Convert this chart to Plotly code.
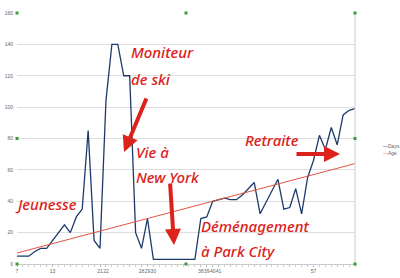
import plotly.graph_objects as go

ages = [7, 8, 9, 10, 11, 12, 13, 14, 15, 16, 17, 18, 19, 20, 21, 22, 23, 24, 25, 26,
        27, 28, 29, 30, 31, 32, 33, 34, 35, 36, 37, 38, 39, 40, 41, 42, 43, 44, 45, 46,
        47, 48, 49, 50, 51, 52, 53, 54, 55, 56, 57, 58, 59, 60, 61, 62, 63, 64]
days = [5, 5, 5, 8, 10, 10, 15, 20, 25, 20,
        30, 35, 85, 15, 10, 104, 140, 140, 120, 120,
        20, 10, 29, 3, 3, 3, 3, 3, 3, 3,
        3, 29, 30, 40, 41, 42, 41, 41, 44, 48,
        52, 32, 39, 46, 54, 35, 36, 48, 32, 55,
        66, 82, 73, 87, 76, 95, 98, 99]
age_series = [7, 8, 9, 10, 11, 12, 13, 14, 15, 16, 17, 18, 19, 20, 21, 22, 23, 24, 25, 26,
              27, 28, 29, 30, 31, 32, 33, 34, 35, 36, 37, 38, 39, 40, 41, 42, 43, 44, 45, 46,
              47, 48, 49, 50, 51, 52, 53, 54, 55, 56, 57, 58, 59, 60, 61, 62, 63, 64]
xtick_vals = [7, 13, 21, 22, 28, 29, 30, 38, 39, 40, 41, 57]
ytick_vals = [0, 20, 40, 60, 80, 100, 120, 140, 160]

W, H = 400, 278
L, R, T, B = 17, 45, 13, 14
PW, PH = W - L - R, H - T - B


def px(x):
    return (x - L) / PW


def py(y):
    return (H - B - y) / PH


RED = "#dc221a"
NAVY = "#1d3b6a"
AGE_C = "#e2553f"

fig = go.Figure()
fig.add_trace(go.Scatter(x=ages, y=days, mode="lines", name="Days",
                         line=dict(color=NAVY, width=1.3)))
fig.add_trace(go.Scatter(x=ages, y=age_series, mode="lines", name="Age",
                         line=dict(color=AGE_C, width=1)))

hand = dict(family="Noto Sans", size=15, color=RED, style="italic", weight=500)

labels = [
    ("Moniteur", 129, 52),
    ("de ski", 129, 79),
    ("Vie à", 134, 152),
    ("New York", 134, 177),
    ("Jeunesse", 13, 204),
    ("Déménagement", 199, 226),
    ("à Park City", 199, 251),
    ("Retraite", 243, 140),
]
annotations = []
for txt, x, y in labels:
    annotations.append(dict(text=txt, xref="paper", yref="paper", x=px(x), y=py(y),
                            xanchor="left", yanchor="middle", showarrow=False,
                            font=hand))

arrows = [((124, 152), (147, 97)), ((174, 245), (170, 182)), ((340, 154), (295, 154))]
for (tx, ty), (sx, sy) in arrows:
    annotations.append(dict(text="", xref="paper", yref="paper", x=px(tx), y=py(ty),
                            ax=sx - tx, ay=sy - ty, showarrow=True, arrowhead=2,
                            arrowsize=0.8, arrowwidth=4, arrowcolor=RED))

# legend drawn as small text
annotations.append(dict(text="<span style='color:%s'>—</span>Days" % NAVY, xref="paper",
                        yref="paper", x=px(381), y=py(146), xanchor="left", yanchor="middle",
                        showarrow=False, font=dict(family="Liberation Sans", size=5, color="#666")))
annotations.append(dict(text="<span style='color:%s'>—</span>Age" % AGE_C, xref="paper",
                        yref="paper", x=px(381), y=py(153), xanchor="left", yanchor="middle",
                        showarrow=False, font=dict(family="Liberation Sans", size=5, color="#666")))

shapes = [dict(type="line", xref="paper", yref="paper", x0=1, x1=1, y0=0, y1=1,
               line=dict(color="#cccccc", width=1))]
for hx in (0, 0.5, 1):
    for hy in (0, 0.5, 1):
        if hx == 0.5 and hy == 0.5:
            continue
        shapes.append(dict(type="rect", xref="paper", yref="paper", xsizemode="pixel",
                           ysizemode="pixel", xanchor=hx, yanchor=hy, x0=-1.5, x1=1.5,
                           y0=-1.5, y1=1.5, fillcolor="#3c9a3c", line=dict(width=0)))

fig.update_layout(
    width=W, height=H, margin=dict(l=L, r=R, t=T, b=B),
    paper_bgcolor="white", plot_bgcolor="white", showlegend=False,
    annotations=annotations, shapes=shapes,
    xaxis=dict(range=[7, 64], tickvals=xtick_vals, ticktext=[str(v) for v in xtick_vals],
               tickangle=0, tickfont=dict(family="Liberation Sans", size=5, color="#666"),
               ticks="outside", ticklen=2, tickcolor="#bbbbbb", automargin=False,
               minor=dict(dtick=1, tick0=7, ticks="outside", ticklen=2, tickcolor="#cccccc"),
               showgrid=False, zeroline=False, showline=True, linecolor="#cccccc"),
    yaxis=dict(range=[0, 160], tickvals=ytick_vals, automargin=False,
               tickfont=dict(family="Liberation Sans", size=5, color="#666"),
               gridcolor="#dddddd", zeroline=False, showline=False, ticks="",
               ticklabelstandoff=3),
)

fig.write_html("out.html")
